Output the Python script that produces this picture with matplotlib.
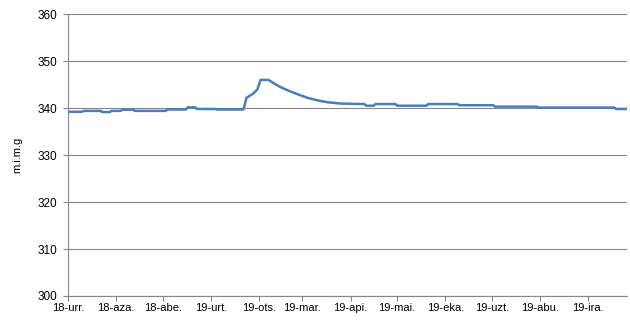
import matplotlib
matplotlib.use("Agg")
import matplotlib.pyplot as plt
import pandas as pd

# Data points (date, value)
dates = [
    "2018-10-01", "2018-10-10", "2018-10-11", "2018-10-22", "2018-10-23", "2018-10-28",
    "2018-10-29", "2018-11-04", "2018-11-05", "2018-11-12", "2018-11-13", "2018-11-14",
    "2018-11-15", "2018-12-03", "2018-12-04", "2018-12-16", "2018-12-17", "2018-12-22",
    "2018-12-23", "2019-01-04", "2019-01-05", "2019-01-22", "2019-01-24", "2019-01-27",
    "2019-01-29", "2019-01-31", "2019-02-02", "2019-02-07", "2019-02-14", "2019-02-20",
    "2019-02-27", "2019-03-05", "2019-03-12", "2019-03-18", "2019-03-26", "2019-04-10",
    "2019-04-11", "2019-04-16", "2019-04-17", "2019-04-30", "2019-05-01", "2019-05-20",
    "2019-05-21", "2019-06-09", "2019-06-10", "2019-07-02", "2019-07-03", "2019-07-30",
    "2019-07-31", "2019-09-18", "2019-09-19", "2019-09-26",
]
values = [
    339.2, 339.2, 339.4, 339.4, 339.15, 339.15,
    339.4, 339.4, 339.65, 339.65, 339.4, 339.4,
    339.4, 339.4, 339.7, 339.7, 340.15, 340.15,
    339.8, 339.8, 339.7, 339.7, 342.2, 342.8,
    343.3, 344.0, 346.0, 346.0, 344.6, 343.7,
    342.8, 342.1, 341.55, 341.2, 340.95, 340.85,
    340.5, 340.5, 340.85, 340.85, 340.5, 340.5,
    340.85, 340.85, 340.6, 340.6, 340.3, 340.3,
    340.1, 340.1, 339.8, 339.8,
]
y_ticks = [300, 310, 320, 330, 340, 350, 360]
month_labels = ["18-urr.", "18-aza.", "18-abe.", "19-urt.", "19-ots.", "19-mar.",
                "19-api.", "19-mai.", "19-eka.", "19-uzt.", "19-abu.", "19-ira."]
y_label = "m.i.m.g"

plt.rcParams['font.family'] = ['Liberation Sans', 'DejaVu Sans']

x = pd.to_datetime(dates)
fig = plt.figure(figsize=(6.3, 3.2), dpi=100)
ax = fig.add_axes([0.108, 0.075, 0.887, 0.881])

ax.plot(x, values, color="#4a7ebb", linewidth=1.8, solid_joinstyle="round")

ax.set_ylim(300, 360)
ax.set_yticks(y_ticks)
ax.set_xlim(pd.Timestamp("2018-10-01"), pd.Timestamp("2019-09-26"))
month_ticks = pd.date_range("2018-10-01", periods=len(month_labels), freq="MS")
ax.set_xticks(month_ticks)
ax.set_xticklabels(month_labels)

ax.grid(axis="y", color="#868686", linewidth=0.8)
ax.set_axisbelow(True)
for s in ["top", "right"]:
    ax.spines[s].set_visible(False)
for s in ["left", "bottom"]:
    ax.spines[s].set_color("#868686")
    ax.spines[s].set_linewidth(0.8)
ax.tick_params(axis="both", colors="#868686", labelcolor="black",
               length=3.5, width=0.8, direction="out")
ax.tick_params(axis="x", labelsize=8, pad=1.5)
ax.tick_params(axis="y", labelsize=8.5, pad=4)
ax.set_ylabel(y_label, fontsize=8, labelpad=11)

fig.savefig("out.png", dpi=100)
